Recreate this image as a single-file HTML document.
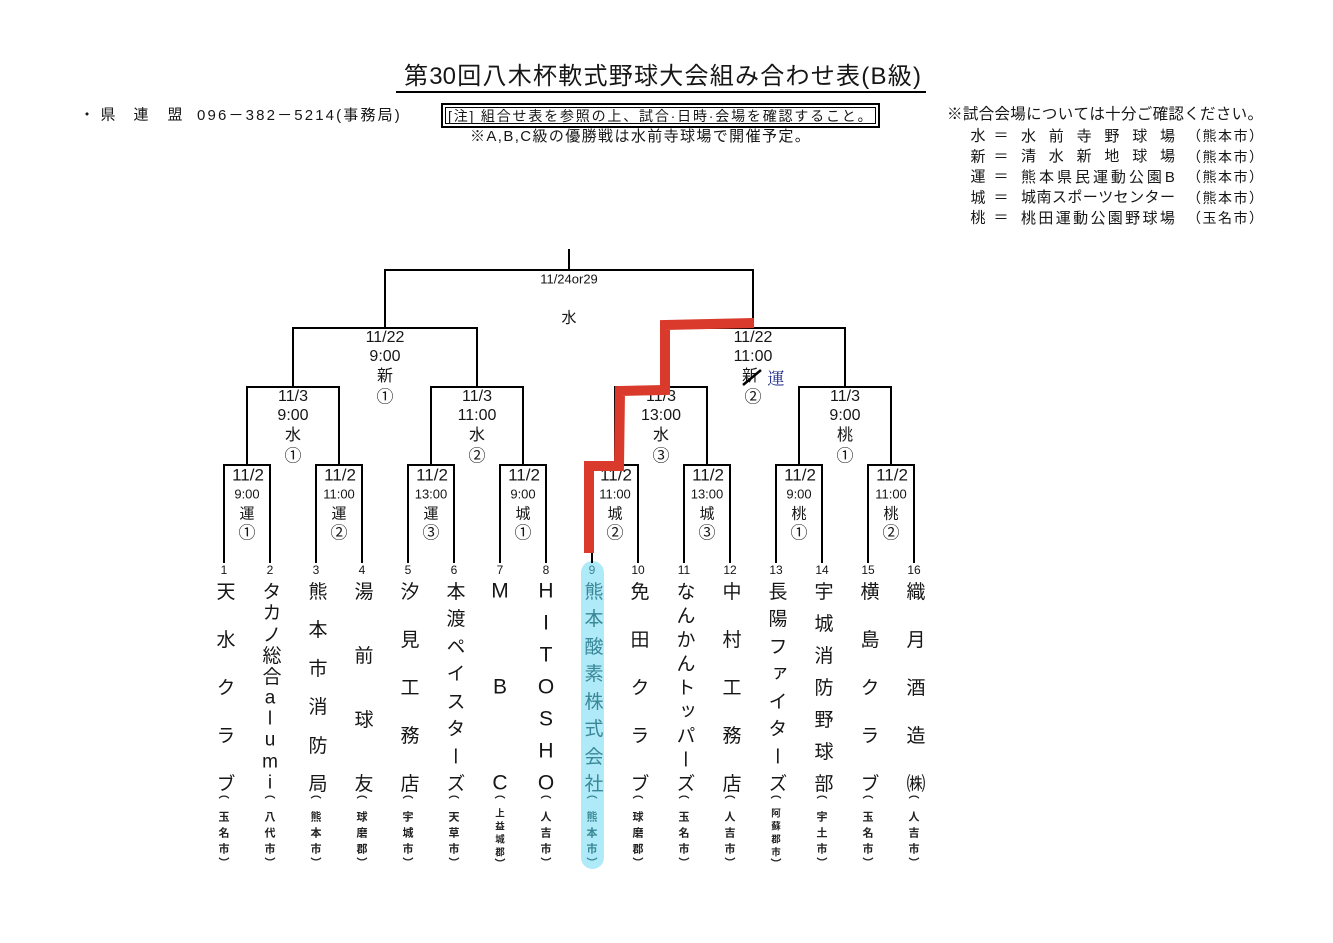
<!DOCTYPE html>
<html><head><meta charset="utf-8">
<style>
*{margin:0;padding:0;box-sizing:border-box}
body{width:1333px;height:943px;background:#fff;position:relative;overflow:hidden;font-family:"Liberation Sans","Noto Sans CJK JP",sans-serif;color:#161616}
.t{position:absolute;transform:translate(-50%,-50%);white-space:nowrap;line-height:1}
.n{position:absolute;transform:translate(-50%,-50%);writing-mode:vertical-rl;text-orientation:upright;font-size:19px;line-height:1;white-space:nowrap}
.L{position:absolute;transform:translate(-50%,-50%);font-size:21px;line-height:1}
.s{position:absolute;transform:translate(-50%,-50%);font-size:11px;line-height:1;font-weight:bold;color:#222}
.s4{position:absolute;transform:translate(-50%,-50%);font-size:9.5px;line-height:1;font-weight:bold;color:#222}
.j{position:absolute;display:flex;justify-content:space-between;align-items:center;white-space:nowrap;line-height:1}
.r1a{font-size:17px}.r1b{font-size:13px}.r1c{font-size:15px}.r1d{font-size:17px}
.f16{font-size:16px}
.b9{color:#3a8797}
</style></head><body>

<svg width="1333" height="943" style="position:absolute;left:0;top:0">
<rect x="581" y="561" width="23" height="308" rx="11.5" fill="#aeeaf8"/>
<g stroke="#000" stroke-width="2" fill="none" stroke-linecap="square">
<path d="M397 92H925"/>
<path d="M569 250V270M385 270H753M385 270V328M753 270V328"/>
<path d="M293 328H477M293 328V387M477 328V387M661 328H845M661 328V387M845 328V387"/>
<path d="M247 387H339M431 387H523M615 387H707M799 387H891"/>
<path d="M247 387V465M339 387V465M431 387V465M523 387V465M615 387V465M707 387V465M799 387V465M891 387V465"/>
<path d="M224 465H270M316 465H362M408 465H454M500 465H546M592 465H638M684 465H730M776 465H822M868 465H914"/>
<path d="M224 465V562M270 465V562M316 465V562M362 465V562M408 465V562M454 465V562M500 465V562M546 465V562M592 465V562M638 465V562M684 465V562M730 465V562M776 465V562M822 465V562M868 465V562M914 465V562"/>
</g>
</svg>

<!-- Title -->
<div class="j" style="left:404px;top:64px;width:517px;height:25px;font-size:24px"><span>第</span><span>30</span><span>回</span><span>八</span><span>木</span><span>杯</span><span>軟</span><span>式</span><span>野</span><span>球</span><span>大</span><span>会</span><span>組</span><span>み</span><span>合</span><span>わ</span><span>せ</span><span>表</span><span>(</span><span>B</span><span>級</span><span>)</span></div>

<!-- left header -->
<div class="t" style="left:87px;top:115px;font-size:15px">・</div>
<div class="t" style="left:108px;top:115px;font-size:15px">県</div>
<div class="t" style="left:141px;top:115px;font-size:15px">連</div>
<div class="t" style="left:175px;top:115px;font-size:15px">盟</div>
<div class="j" style="left:197px;top:107px;width:203px;height:16px;font-size:15px"><span>0</span><span>9</span><span>6</span><span>－</span><span>3</span><span>8</span><span>2</span><span>－</span><span>5</span><span>2</span><span>1</span><span>4</span><span>(</span><span>事</span><span>務</span><span>局</span><span>)</span></div>

<!-- note box -->
<div style="position:absolute;left:441px;top:103px;width:439px;height:25px;border:2px solid #000">
<div style="position:absolute;left:2px;top:2px;right:2px;bottom:2px;border:1px solid #000"></div>
</div>
<div class="j" style="left:448px;top:108px;width:424px;height:15px;font-size:14px"><span>[</span><span>注</span><span>]</span><span>&nbsp;</span><span>組</span><span>合</span><span>せ</span><span>表</span><span>を</span><span>参</span><span>照</span><span>の</span><span>上</span><span>、</span><span>試</span><span>合</span><span>·</span><span>日</span><span>時</span><span>·</span><span>会</span><span>場</span><span>を</span><span>確</span><span>認</span><span>す</span><span>る</span><span>こ</span><span>と</span><span>。</span></div>
<div class="j" style="left:470px;top:129px;width:340px;height:15px;font-size:15px"><span>※</span><span>A</span><span>,</span><span>B</span><span>,</span><span>C</span><span>級</span><span>の</span><span>優</span><span>勝</span><span>戦</span><span>は</span><span>水</span><span>前</span><span>寺</span><span>球</span><span>場</span><span>で</span><span>開</span><span>催</span><span>予</span><span>定</span><span>。</span></div>

<!-- right legend -->
<div class="j" style="left:947px;top:107px;width:316px;height:16px;font-size:15.5px"><span>※</span><span>試</span><span>合</span><span>会</span><span>場</span><span>に</span><span>つ</span><span>い</span><span>て</span><span>は</span><span>十</span><span>分</span><span>ご</span><span>確</span><span>認</span><span>く</span><span>だ</span><span>さ</span><span>い</span><span>。</span></div>

<div class="t" style="left:978px;top:136px;font-size:15px">水</div>
<div class="t" style="left:1001px;top:136px;font-size:15px">＝</div>
<div class="j" style="left:1021px;top:128px;width:154px;height:16px;font-size:15px"><span>水</span><span>前</span><span>寺</span><span>野</span><span>球</span><span>場</span></div>
<div class="j" style="left:1187px;top:128px;width:76px;height:16px;font-size:14px"><span>（</span><span>熊</span><span>本</span><span>市</span><span>）</span></div>

<div class="t" style="left:978px;top:156.5px;font-size:15px">新</div>
<div class="t" style="left:1001px;top:156.5px;font-size:15px">＝</div>
<div class="j" style="left:1021px;top:148.5px;width:154px;height:16px;font-size:15px"><span>清</span><span>水</span><span>新</span><span>地</span><span>球</span><span>場</span></div>
<div class="j" style="left:1187px;top:148.5px;width:76px;height:16px;font-size:14px"><span>（</span><span>熊</span><span>本</span><span>市</span><span>）</span></div>

<div class="t" style="left:978px;top:177px;font-size:15px">運</div>
<div class="t" style="left:1001px;top:177px;font-size:15px">＝</div>
<div class="j" style="left:1021px;top:169px;width:154px;height:16px;font-size:15px"><span>熊</span><span>本</span><span>県</span><span>民</span><span>運</span><span>動</span><span>公</span><span>園</span><span>B</span></div>
<div class="j" style="left:1187px;top:169px;width:76px;height:16px;font-size:14px"><span>（</span><span>熊</span><span>本</span><span>市</span><span>）</span></div>

<div class="t" style="left:978px;top:197.5px;font-size:15px">城</div>
<div class="t" style="left:1001px;top:197.5px;font-size:15px">＝</div>
<div class="j" style="left:1021px;top:189.5px;width:154px;height:16px;font-size:15px"><span>城</span><span>南</span><span>ス</span><span>ポ</span><span>ー</span><span>ツ</span><span>セ</span><span>ン</span><span>タ</span><span>ー</span></div>
<div class="j" style="left:1187px;top:189.5px;width:76px;height:16px;font-size:14px"><span>（</span><span>熊</span><span>本</span><span>市</span><span>）</span></div>

<div class="t" style="left:978px;top:218px;font-size:15px">桃</div>
<div class="t" style="left:1001px;top:218px;font-size:15px">＝</div>
<div class="j" style="left:1021px;top:210px;width:154px;height:16px;font-size:15px"><span>桃</span><span>田</span><span>運</span><span>動</span><span>公</span><span>園</span><span>野</span><span>球</span><span>場</span></div>
<div class="j" style="left:1187px;top:210px;width:76px;height:16px;font-size:14px"><span>（</span><span>玉</span><span>名</span><span>市</span><span>）</span></div>

<!-- Final -->
<div class="t" style="left:569px;top:279px;font-size:13px">11/24or29</div>
<div class="t" style="left:569px;top:318px;font-size:15px">水</div>

<!-- Round 3 -->
<div class="t f16" style="left:385px;top:338px">11/22</div>
<div class="t f16" style="left:385px;top:357px">9:00</div>
<div class="t f16" style="left:385px;top:377px">新</div>
<div class="t" style="left:385px;top:397px;font-size:17px">①</div>

<div class="t f16" style="left:753px;top:338px">11/22</div>
<div class="t f16" style="left:753px;top:357px">11:00</div>
<div class="t f16" style="left:750px;top:377px">新</div>
<div class="t" style="left:776px;top:377px;font-size:17px;color:#1d2a8a;font-family:'Noto Serif CJK SC',serif">運</div>
<div class="t" style="left:753px;top:397px;font-size:17px">②</div>

<!-- Round 2 -->
<div class="t f16" style="left:293px;top:397px">11/3</div>
<div class="t f16" style="left:293px;top:416px">9:00</div>
<div class="t f16" style="left:293px;top:436px">水</div>
<div class="t" style="left:293px;top:456px;font-size:17px">①</div>

<div class="t f16" style="left:477px;top:397px">11/3</div>
<div class="t f16" style="left:477px;top:416px">11:00</div>
<div class="t f16" style="left:477px;top:436px">水</div>
<div class="t" style="left:477px;top:456px;font-size:17px">②</div>

<div class="t f16" style="left:661px;top:397px">11/3</div>
<div class="t f16" style="left:661px;top:416px">13:00</div>
<div class="t f16" style="left:661px;top:436px">水</div>
<div class="t" style="left:661px;top:456px;font-size:17px">③</div>

<div class="t f16" style="left:845px;top:397px">11/3</div>
<div class="t f16" style="left:845px;top:416px">9:00</div>
<div class="t f16" style="left:845px;top:436px">桃</div>
<div class="t" style="left:845px;top:456px;font-size:17px">①</div>

<!-- Round 1 -->
<div class="t r1a" style="left:248px;top:475px">11/2</div><div class="t r1b" style="left:247px;top:494px">9:00</div><div class="t r1c" style="left:247px;top:514px">運</div><div class="t r1d" style="left:247px;top:533px">①</div>
<div class="t r1a" style="left:340px;top:475px">11/2</div><div class="t r1b" style="left:339px;top:494px">11:00</div><div class="t r1c" style="left:339px;top:514px">運</div><div class="t r1d" style="left:339px;top:533px">②</div>
<div class="t r1a" style="left:432px;top:475px">11/2</div><div class="t r1b" style="left:431px;top:494px">13:00</div><div class="t r1c" style="left:431px;top:514px">運</div><div class="t r1d" style="left:431px;top:533px">③</div>
<div class="t r1a" style="left:524px;top:475px">11/2</div><div class="t r1b" style="left:523px;top:494px">9:00</div><div class="t r1c" style="left:523px;top:514px">城</div><div class="t r1d" style="left:523px;top:533px">①</div>
<div class="t r1a" style="left:616px;top:475px">11/2</div><div class="t r1b" style="left:615px;top:494px">11:00</div><div class="t r1c" style="left:615px;top:514px">城</div><div class="t r1d" style="left:615px;top:533px">②</div>
<div class="t r1a" style="left:708px;top:475px">11/2</div><div class="t r1b" style="left:707px;top:494px">13:00</div><div class="t r1c" style="left:707px;top:514px">城</div><div class="t r1d" style="left:707px;top:533px">③</div>
<div class="t r1a" style="left:800px;top:475px">11/2</div><div class="t r1b" style="left:799px;top:494px">9:00</div><div class="t r1c" style="left:799px;top:514px">桃</div><div class="t r1d" style="left:799px;top:533px">①</div>
<div class="t r1a" style="left:892px;top:475px">11/2</div><div class="t r1b" style="left:891px;top:494px">11:00</div><div class="t r1c" style="left:891px;top:514px">桃</div><div class="t r1d" style="left:891px;top:533px">②</div>

<!-- team numbers -->
<div class="t" style="left:224px;top:570px;font-size:12px">1</div>
<div class="t" style="left:270px;top:570px;font-size:12px">2</div>
<div class="t" style="left:316px;top:570px;font-size:12px">3</div>
<div class="t" style="left:362px;top:570px;font-size:12px">4</div>
<div class="t" style="left:408px;top:570px;font-size:12px">5</div>
<div class="t" style="left:454px;top:570px;font-size:12px">6</div>
<div class="t" style="left:500px;top:570px;font-size:12px">7</div>
<div class="t" style="left:546px;top:570px;font-size:12px">8</div>
<div class="t b9" style="left:592px;top:570px;font-size:12px">9</div>
<div class="t" style="left:638px;top:570px;font-size:12px">10</div>
<div class="t" style="left:684px;top:570px;font-size:12px">11</div>
<div class="t" style="left:730px;top:570px;font-size:12px">12</div>
<div class="t" style="left:776px;top:570px;font-size:12px">13</div>
<div class="t" style="left:822px;top:570px;font-size:12px">14</div>
<div class="t" style="left:868px;top:570px;font-size:12px">15</div>
<div class="t" style="left:914px;top:570px;font-size:12px">16</div>

<!-- Team 1 -->
<div class="n" style="left:224px;top:591px">天</div><div class="n" style="left:224px;top:639px">水</div><div class="n" style="left:224px;top:687px">ク</div><div class="n" style="left:224px;top:735px">ラ</div><div class="n" style="left:224px;top:783px">ブ</div>
<div class="s" style="left:224px;top:795px">︵</div><div class="s" style="left:224px;top:818px">玉</div><div class="s" style="left:224px;top:834px">名</div><div class="s" style="left:224px;top:850px">市</div><div class="s" style="left:224px;top:864px">︶</div>
<!-- Team 2 -->
<div class="n" style="left:270px;top:591px">タ</div><div class="n" style="left:270px;top:612px">カ</div><div class="n" style="left:270px;top:634px">ノ</div><div class="n" style="left:270px;top:655px">総</div><div class="n" style="left:270px;top:676px">合</div><div class="t" style="left:270px;top:698px;font-size:19px">a</div><div class="t" style="left:270px;top:719px;font-size:19px">l</div><div class="t" style="left:270px;top:740px;font-size:19px">u</div><div class="t" style="left:270px;top:762px;font-size:19px">m</div><div class="t" style="left:270px;top:783px;font-size:19px">i</div>
<div class="s" style="left:270px;top:795px">︵</div><div class="s" style="left:270px;top:818px">八</div><div class="s" style="left:270px;top:834px">代</div><div class="s" style="left:270px;top:850px">市</div><div class="s" style="left:270px;top:864px">︶</div>
<!-- Team 3 -->
<div class="n" style="left:316px;top:591px">熊</div><div class="n" style="left:316px;top:629px">本</div><div class="n" style="left:316px;top:668px">市</div><div class="n" style="left:316px;top:706px">消</div><div class="n" style="left:316px;top:745px">防</div><div class="n" style="left:316px;top:783px">局</div>
<div class="s" style="left:316px;top:795px">︵</div><div class="s" style="left:316px;top:818px">熊</div><div class="s" style="left:316px;top:834px">本</div><div class="s" style="left:316px;top:850px">市</div><div class="s" style="left:316px;top:864px">︶</div>
<!-- Team 4 -->
<div class="n" style="left:362px;top:591px">湯</div><div class="n" style="left:362px;top:655px">前</div><div class="n" style="left:362px;top:719px">球</div><div class="n" style="left:362px;top:783px">友</div>
<div class="s" style="left:362px;top:795px">︵</div><div class="s" style="left:362px;top:818px">球</div><div class="s" style="left:362px;top:834px">磨</div><div class="s" style="left:362px;top:850px">郡</div><div class="s" style="left:362px;top:864px">︶</div>
<!-- Team 5 -->
<div class="n" style="left:408px;top:591px">汐</div><div class="n" style="left:408px;top:639px">見</div><div class="n" style="left:408px;top:687px">工</div><div class="n" style="left:408px;top:735px">務</div><div class="n" style="left:408px;top:783px">店</div>
<div class="s" style="left:408px;top:795px">︵</div><div class="s" style="left:408px;top:818px">宇</div><div class="s" style="left:408px;top:834px">城</div><div class="s" style="left:408px;top:850px">市</div><div class="s" style="left:408px;top:864px">︶</div>
<!-- Team 6 -->
<div class="n" style="left:454px;top:591px">本</div><div class="n" style="left:454px;top:618px">渡</div><div class="n" style="left:454px;top:646px">ペ</div><div class="n" style="left:454px;top:673px">イ</div><div class="n" style="left:454px;top:701px">ス</div><div class="n" style="left:454px;top:728px">タ</div><div class="n" style="left:454px;top:756px">ー</div><div class="n" style="left:454px;top:783px">ズ</div>
<div class="s" style="left:454px;top:795px">︵</div><div class="s" style="left:454px;top:818px">天</div><div class="s" style="left:454px;top:834px">草</div><div class="s" style="left:454px;top:850px">市</div><div class="s" style="left:454px;top:864px">︶</div>
<!-- Team 7 -->
<div class="L" style="left:500px;top:591px">M</div><div class="L" style="left:500px;top:687px">B</div><div class="L" style="left:500px;top:783px">C</div>
<div class="s" style="left:500px;top:795px">︵</div><div class="s4" style="left:500px;top:814px">上</div><div class="s4" style="left:500px;top:827px">益</div><div class="s4" style="left:500px;top:840px">城</div><div class="s4" style="left:500px;top:853px">郡</div><div class="s" style="left:500px;top:865px">︶</div>
<!-- Team 8 -->
<div class="L" style="left:546px;top:591px">H</div><div class="L" style="left:546px;top:623px">I</div><div class="L" style="left:546px;top:655px">T</div><div class="L" style="left:546px;top:687px">O</div><div class="L" style="left:546px;top:719px">S</div><div class="L" style="left:546px;top:751px">H</div><div class="L" style="left:546px;top:783px">O</div>
<div class="s" style="left:546px;top:795px">︵</div><div class="s" style="left:546px;top:818px">人</div><div class="s" style="left:546px;top:834px">吉</div><div class="s" style="left:546px;top:850px">市</div><div class="s" style="left:546px;top:864px">︶</div>
<!-- Team 9 -->
<div class="n b9" style="left:592px;top:591px">熊</div><div class="n b9" style="left:592px;top:618px">本</div><div class="n b9" style="left:592px;top:646px">酸</div><div class="n b9" style="left:592px;top:673px">素</div><div class="n b9" style="left:592px;top:701px">株</div><div class="n b9" style="left:592px;top:728px">式</div><div class="n b9" style="left:592px;top:756px">会</div><div class="n b9" style="left:592px;top:783px">社</div>
<div class="s b9" style="left:592px;top:795px">︵</div><div class="s b9" style="left:592px;top:818px">熊</div><div class="s b9" style="left:592px;top:834px">本</div><div class="s b9" style="left:592px;top:850px">市</div><div class="s b9" style="left:592px;top:864px">︶</div>
<!-- Team 10 -->
<div class="n" style="left:638px;top:591px">免</div><div class="n" style="left:638px;top:639px">田</div><div class="n" style="left:638px;top:687px">ク</div><div class="n" style="left:638px;top:735px">ラ</div><div class="n" style="left:638px;top:783px">ブ</div>
<div class="s" style="left:638px;top:795px">︵</div><div class="s" style="left:638px;top:818px">球</div><div class="s" style="left:638px;top:834px">磨</div><div class="s" style="left:638px;top:850px">郡</div><div class="s" style="left:638px;top:864px">︶</div>
<!-- Team 11 -->
<div class="n" style="left:684px;top:591px">な</div><div class="n" style="left:684px;top:615px">ん</div><div class="n" style="left:684px;top:639px">か</div><div class="n" style="left:684px;top:663px">ん</div><div class="n" style="left:684px;top:687px">ト</div><div class="n" style="left:684px;top:711px">ッ</div><div class="n" style="left:684px;top:735px">パ</div><div class="n" style="left:684px;top:759px">ー</div><div class="n" style="left:684px;top:783px">ズ</div>
<div class="s" style="left:684px;top:795px">︵</div><div class="s" style="left:684px;top:818px">玉</div><div class="s" style="left:684px;top:834px">名</div><div class="s" style="left:684px;top:850px">市</div><div class="s" style="left:684px;top:864px">︶</div>
<!-- Team 12 -->
<div class="n" style="left:730px;top:591px">中</div><div class="n" style="left:730px;top:639px">村</div><div class="n" style="left:730px;top:687px">工</div><div class="n" style="left:730px;top:735px">務</div><div class="n" style="left:730px;top:783px">店</div>
<div class="s" style="left:730px;top:795px">︵</div><div class="s" style="left:730px;top:818px">人</div><div class="s" style="left:730px;top:834px">吉</div><div class="s" style="left:730px;top:850px">市</div><div class="s" style="left:730px;top:864px">︶</div>
<!-- Team 13 -->
<div class="n" style="left:776px;top:591px">長</div><div class="n" style="left:776px;top:618px">陽</div><div class="n" style="left:776px;top:646px">フ</div><div class="n" style="left:776px;top:673px">ァ</div><div class="n" style="left:776px;top:701px">イ</div><div class="n" style="left:776px;top:728px">タ</div><div class="n" style="left:776px;top:756px">ー</div><div class="n" style="left:776px;top:783px">ズ</div>
<div class="s" style="left:776px;top:795px">︵</div><div class="s4" style="left:776px;top:814px">阿</div><div class="s4" style="left:776px;top:827px">蘇</div><div class="s4" style="left:776px;top:840px">郡</div><div class="s4" style="left:776px;top:853px">市</div><div class="s" style="left:776px;top:865px">︶</div>
<!-- Team 14 -->
<div class="n" style="left:822px;top:591px">宇</div><div class="n" style="left:822px;top:623px">城</div><div class="n" style="left:822px;top:655px">消</div><div class="n" style="left:822px;top:687px">防</div><div class="n" style="left:822px;top:719px">野</div><div class="n" style="left:822px;top:751px">球</div><div class="n" style="left:822px;top:783px">部</div>
<div class="s" style="left:822px;top:795px">︵</div><div class="s" style="left:822px;top:818px">宇</div><div class="s" style="left:822px;top:834px">土</div><div class="s" style="left:822px;top:850px">市</div><div class="s" style="left:822px;top:864px">︶</div>
<!-- Team 15 -->
<div class="n" style="left:868px;top:591px">横</div><div class="n" style="left:868px;top:639px">島</div><div class="n" style="left:868px;top:687px">ク</div><div class="n" style="left:868px;top:735px">ラ</div><div class="n" style="left:868px;top:783px">ブ</div>
<div class="s" style="left:868px;top:795px">︵</div><div class="s" style="left:868px;top:818px">玉</div><div class="s" style="left:868px;top:834px">名</div><div class="s" style="left:868px;top:850px">市</div><div class="s" style="left:868px;top:864px">︶</div>
<!-- Team 16 -->
<div class="n" style="left:914px;top:591px">織</div><div class="n" style="left:914px;top:639px">月</div><div class="n" style="left:914px;top:687px">酒</div><div class="n" style="left:914px;top:735px">造</div><div class="n" style="left:914px;top:783px">㈱</div>
<div class="s" style="left:914px;top:795px">︵</div><div class="s" style="left:914px;top:818px">人</div><div class="s" style="left:914px;top:834px">吉</div><div class="s" style="left:914px;top:850px">市</div><div class="s" style="left:914px;top:864px">︶</div>

<svg width="1333" height="943" style="position:absolute;left:0;top:0">
<line x1="743" y1="385" x2="761" y2="370" stroke="#000" stroke-width="2.5"/>
<polyline points="589,553 589,466 619,466 620,391 665,390 665,325 754,323" fill="none" stroke="#d93a2b" stroke-width="10" stroke-linejoin="miter" stroke-linecap="butt"/>
</svg>
</body></html>
